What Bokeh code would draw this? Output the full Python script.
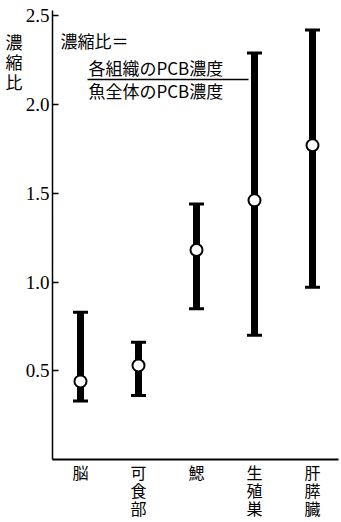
import numpy as np
from bokeh.plotting import figure
from bokeh.models import Range1d, FixedTicker, Label, LinearAxis
from bokeh.embed import file_html
from bokeh.resources import INLINE

# ---- data ----
categories = ["脳", "可\n食\n部", "鰓", "生\n殖\n巣", "肝\n膵\n臓"]
mean_ratio = [0.44, 0.53, 1.18, 1.46, 1.77]
low_ratio = [0.33, 0.36, 0.85, 0.70, 0.97]
high_ratio = [0.83, 0.66, 1.44, 2.29, 2.42]
y_ticks = [0.5, 1.0, 1.5, 2.0, 2.5]
y_tick_labels = ["0.5", "1.0", "1.5", "2.0", "2.5"]
y_title_chars = ["濃", "縮", "比"]

xs = np.arange(1, len(categories) + 1)

# layout (page px; Bokeh page has no body margin)
FR_L, FR_R, FR_T, FR_B = 52, 338, 10, 459
PX_PER_X = 58.0
PX_PER_Y = 177.5
x0 = 1 - (80 - FR_L) / PX_PER_X
x1 = x0 + (FR_R - FR_L) / PX_PER_X
y1 = (FR_B - FR_T) / PX_PER_Y

def dx(px):
    return x0 + (px - FR_L) / PX_PER_X

def dy(py):
    return (FR_B - py) / PX_PER_Y

p = figure(width=341, height=522, output_backend="svg", toolbar_location=None,
           x_range=Range1d(x0, x1), y_range=Range1d(0, y1),
           min_border_left=FR_L, min_border_right=341 - FR_R,
           min_border_top=FR_T, min_border_bottom=522 - FR_B)
p.outline_line_color = None
p.grid.visible = False
p.background_fill_color = "white"
p.border_fill_color = "white"

# y axis
p.yaxis.ticker = FixedTicker(ticks=y_ticks)
p.yaxis.major_label_overrides = {t: l for t, l in zip(y_ticks, y_tick_labels)}
p.yaxis.major_tick_in = 6
p.yaxis.major_tick_out = 0
p.yaxis.minor_tick_in = 0
p.yaxis.minor_tick_out = 0
p.yaxis.major_tick_line_width = 1.5
p.yaxis.axis_line_width = 1.5
p.yaxis.major_label_text_font = "Liberation Serif"
p.yaxis.major_label_text_font_size = "19px"
p.yaxis.major_label_text_color = "black"
p.yaxis.major_label_standoff = 3

# stacked y-axis title drawn as labels of an extra (invisible) left axis
p.extra_y_ranges = {"title": Range1d(start=FR_B - FR_T, end=0)}
title_pos = [31, 51, 71]  # px below frame top
tax = LinearAxis(y_range_name="title", ticker=FixedTicker(ticks=title_pos),
                 major_label_overrides={t: c for t, c in zip(title_pos, y_title_chars)},
                 axis_line_color=None, major_tick_in=0, major_tick_out=0,
                 minor_tick_in=0, minor_tick_out=0,
                 major_label_text_font="Noto Sans CJK JP",
                 major_label_text_font_size="17px",
                 major_label_text_color="black",
                 major_label_standoff=0)
p.add_layout(tax, "left")

# x axis
p.xaxis.ticker = FixedTicker(ticks=list(xs))
p.xaxis.major_label_overrides = {int(x): c for x, c in zip(xs, categories)}
p.xaxis.major_tick_in = 0
p.xaxis.major_tick_out = 0
p.xaxis.minor_tick_in = 0
p.xaxis.minor_tick_out = 0
p.xaxis.axis_line_width = 2
p.xaxis.major_label_text_font = "Noto Sans CJK JP"
p.xaxis.major_label_text_font_size = "16px"
p.xaxis.major_label_text_color = "black"
p.xaxis.major_label_text_line_height = 0.76
p.xaxis.major_label_standoff = 0
p.yaxis[0].axis_line_color = "black"
p.xaxis.axis_line_color = "black"
p.yaxis[0].major_tick_line_color = "black"

# error bars
p.segment(x0=xs, y0=low_ratio, x1=xs, y1=high_ratio, line_color="black", line_width=7)
p.scatter(x=xs, y=low_ratio, marker="dash", size=15, line_color="black", line_width=3)
p.scatter(x=xs, y=high_ratio, marker="dash", size=15, line_color="black", line_width=3)
p.scatter(x=xs, y=mean_ratio, marker="circle", size=12, fill_color="white",
          line_color="black", line_width=2)

font = "Noto Sans CJK JP"
# formula
p.add_layout(Label(x=dx(60), y=dy(40), text="濃縮比＝", text_font=font,
                   text_font_size="17px", text_align="left", text_baseline="middle",
                   text_color="black"))
p.add_layout(Label(x=dx(88), y=dy(67), text="各組織のPCB濃度", text_font=font,
                   text_font_size="17px", text_align="left", text_baseline="middle",
                   text_color="black"))
p.add_layout(Label(x=dx(88), y=dy(90), text="魚全体のPCB濃度", text_font=font,
                   text_font_size="17px", text_align="left", text_baseline="middle",
                   text_color="black"))
p.line(x=[dx(87), dx(248)], y=[dy(79), dy(79)], line_color="black", line_width=1.5)

html = file_html(p, INLINE)
open("out.html", "w").write(html)
